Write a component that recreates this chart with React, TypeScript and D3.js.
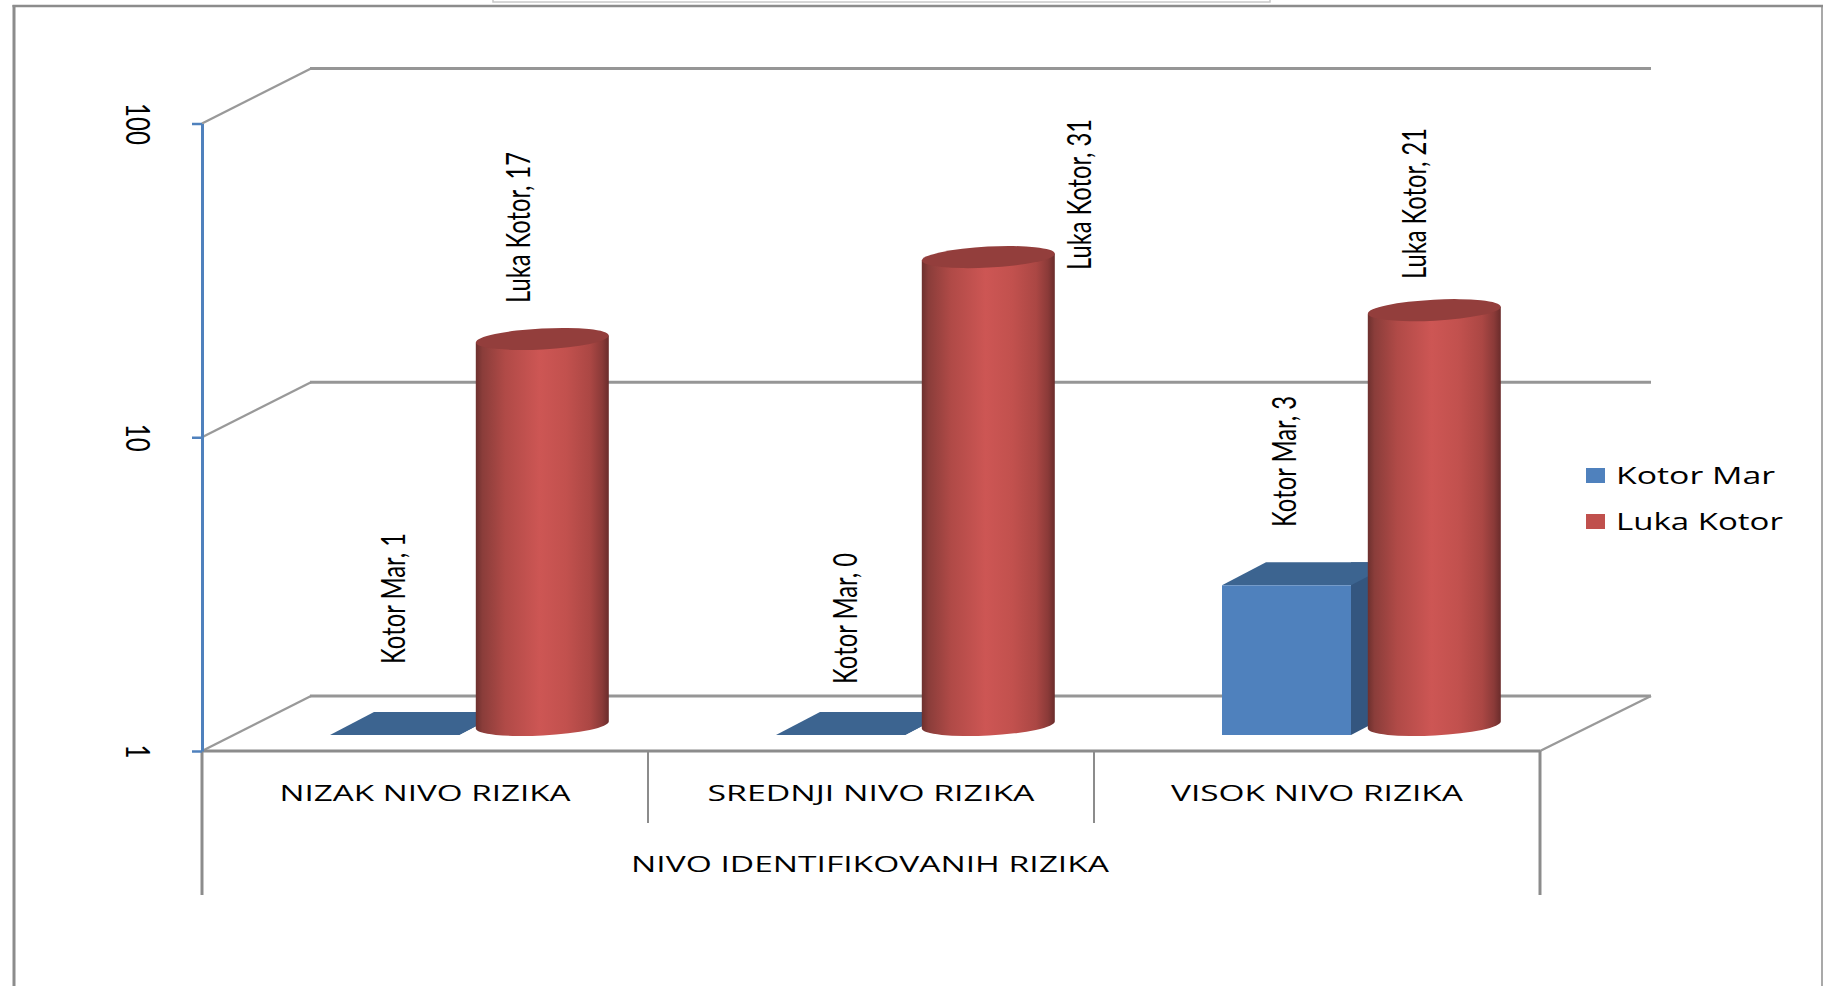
import * as d3 from 'd3';
import { useEffect, useRef } from 'react';

const categories = ['NIZAK NIVO RIZIKA', 'SREDNJI NIVO RIZIKA', 'VISOK NIVO RIZIKA'];
const seriesNames = ['Kotor Mar', 'Luka Kotor'];
const kotorMar = [1, 0, 3];
const lukaKotor = [17, 31, 21];
const yTicks = [1, 10, 100];
const axisTitle = 'NIVO IDENTIFIKOVANIH RIZIKA';

// manual label spots, the original chart has them dragged by hand
const kotorLabelSpots = [
    { x: 405, y: 664 },
    { x: 857, y: 684 },
    { x: 1296, y: 527 },
];
const lukaLabelSpots = [
    { x: 530, y: 303 },
    { x: 1091, y: 270 },
    { x: 1426, y: 279 },
];
const categoryLabelWidths = [291, 327, 292];

const GRAY = '#8c8c8c';
const NARROW = 'Lato, "Liberation Sans", Arial, sans-serif';
const WIDE = '"Open Sans", "DejaVu Sans", sans-serif';

export default function App() {
    const chartRef = useRef<SVGSVGElement | null>(null);

    useEffect(() => {
        if (!chartRef.current) return;
        const svg = d3.select(chartRef.current);
        svg.selectAll('*').remove();

        const width = 1823;
        const height = 986;
        const left = 202;
        const right = 1540;
        const floorY = 751;
        const depthX = 109;
        const depthY = 55;

        svg.attr('viewBox', `0 0 ${width} ${height}`);

        const x = d3.scaleBand<string>().domain(categories).range([left, right]);
        const y = d3.scaleLog().domain([1, 100]).range([floorY, 123.5]);

        // 圓柱漸層
        const grad = svg
            .append('defs')
            .append('linearGradient')
            .attr('id', 'cyl')
            .attr('x1', 0)
            .attr('x2', 1)
            .attr('y1', 0)
            .attr('y2', 0);
        [
            ['0%', '#6d302e'],
            ['5%', '#8a3d3a'],
            ['22%', '#b04a47'],
            ['48%', '#cd5654'],
            ['68%', '#c2514e'],
            ['86%', '#ab4744'],
            ['95%', '#8a3a38'],
            ['100%', '#6a2c2b'],
        ].forEach(([o, c]) => grad.append('stop').attr('offset', o).attr('stop-color', c));

        // 外框
        svg.append('line')
            .attr('x1', 14)
            .attr('x2', 14)
            .attr('y1', 5)
            .attr('y2', height)
            .attr('stroke', GRAY)
            .attr('stroke-width', 3);
        svg.append('line')
            .attr('x1', 12.5)
            .attr('x2', width)
            .attr('y1', 6)
            .attr('y2', 6)
            .attr('stroke', GRAY)
            .attr('stroke-width', 2.5);
        svg.append('line')
            .attr('x1', width - 1)
            .attr('x2', width - 1)
            .attr('y1', 5)
            .attr('y2', height)
            .attr('stroke', GRAY)
            .attr('stroke-width', 1.5);
        svg.append('rect')
            .attr('x', 493)
            .attr('y', -2)
            .attr('width', 777)
            .attr('height', 4)
            .attr('fill', '#fff')
            .attr('stroke', '#c8c8c8')
            .attr('stroke-width', 1.5);

        // 背牆格線
        yTicks.forEach((t) => {
            svg.append('path')
                .attr('d', `M${left},${y(t)} L${left + depthX},${y(t) - depthY}`)
                .attr('fill', 'none')
                .attr('stroke', '#999')
                .attr('stroke-width', 2.4);
            svg.append('line')
                .attr('x1', left + depthX - 1)
                .attr('x2', right + depthX + 2)
                .attr('y1', y(t) - depthY)
                .attr('y2', y(t) - depthY)
                .attr('stroke', '#969696')
                .attr('stroke-width', 3);
        });
        svg.append('line')
            .attr('x1', right)
            .attr('y1', floorY)
            .attr('x2', right + depthX + 2)
            .attr('y2', floorY - depthY)
            .attr('stroke', '#999')
            .attr('stroke-width', 2.4);

        // floor line and multi level category axis
        svg.append('line')
            .attr('x1', left)
            .attr('x2', right)
            .attr('y1', floorY)
            .attr('y2', floorY)
            .attr('stroke', GRAY)
            .attr('stroke-width', 3);
        const bounds = [left, x(categories[1])!, x(categories[2])!, right];
        bounds.forEach((b, i) => {
            svg.append('line')
                .attr('x1', b)
                .attr('x2', b)
                .attr('y1', floorY)
                .attr('y2', i === 0 || i === 3 ? 895 : 823)
                .attr('stroke', GRAY)
                .attr('stroke-width', i === 0 || i === 3 ? 3 : 2);
        });

        const band = x.bandwidth();
        const barW = 129;
        const barDx = 44;
        const barDy = 23;
        const baseY = 735; // 方柱前緣底部
        const lift = floorY - baseY;

        const cylRx = 66.5;
        const cylRy = 10.5;
        const tilt = 3.5;
        const cylBase = 26;

        categories.forEach((c, i) => {
            const g = svg.append('g');
            // Kotor Mar box, zero can not sit on a log axis so it stays flat
            const bx = x(c)! + band * 0.287;
            const top = y(Math.max(kotorMar[i], 1)) - lift;
            g.append('path')
                .attr('d', `M${bx + barW},${baseY} l${barDx},${-barDy} V${top - barDy} H${bx + barW} Z`)
                .attr('fill', '#34567f');
            g.append('path')
                .attr('d', `M${bx},${top} l${barDx},${-barDy} h${barW} l${-barDx},${barDy} Z`)
                .attr('fill', '#3c6490');
            if (top < baseY) {
                g.append('rect')
                    .attr('x', bx)
                    .attr('y', top)
                    .attr('width', barW)
                    .attr('height', baseY - top)
                    .attr('fill', '#4f81bd');
            }

            // Luka Kotor cylinder
            const cx = x(c)! + band * 0.763;
            const cTop = y(lukaKotor[i]) - cylBase;
            const cBot = floorY - cylBase;
            const xl = cx - cylRx;
            const xr = cx + cylRx;
            g.append('path')
                .attr(
                    'd',
                    `M${xl},${cTop + tilt} V${cBot + tilt} A${cylRx},${cylRy} -3 0 0 ${xr},${cBot - tilt} V${cTop - tilt} Z`,
                )
                .attr('fill', 'url(#cyl)');
            g.append('ellipse')
                .attr('cx', cx)
                .attr('cy', cTop)
                .attr('rx', cylRx)
                .attr('ry', cylRy)
                .attr('transform', `rotate(-3 ${cx} ${cTop})`)
                .attr('fill', '#933e3c');

            // 資料標籤
            const label = (text: string, p: { x: number; y: number }, len: number) =>
                svg
                    .append('text')
                    .attr('transform', `translate(${p.x},${p.y}) rotate(-90)`)
                    .attr('font-family', NARROW)
                    .attr('font-size', 33)
                    .attr('textLength', len)
                    .attr('lengthAdjust', 'spacingAndGlyphs')
                    .attr('fill', '#000')
                    .text(text);
            label(`${seriesNames[0]}, ${kotorMar[i]}`, kotorLabelSpots[i], 131);
            label(`${seriesNames[1]}, ${lukaKotor[i]}`, lukaLabelSpots[i], 151);

            // 類別標籤
            svg.append('text')
                .attr('x', x(c)! + band / 2)
                .attr('y', 801)
                .attr('text-anchor', 'middle')
                .attr('font-family', WIDE)
                .attr('font-size', 21)
                .attr('textLength', categoryLabelWidths[i])
                .attr('lengthAdjust', 'spacingAndGlyphs')
                .attr('fill', '#000')
                .text(c);
        });

        svg.append('text')
            .attr('x', 870)
            .attr('y', 872)
            .attr('text-anchor', 'middle')
            .attr('font-family', WIDE)
            .attr('font-size', 22)
            .attr('textLength', 478)
            .attr('lengthAdjust', 'spacingAndGlyphs')
            .attr('fill', '#000')
            .text(axisTitle);

        // Y 軸
        const yAxis = svg
            .append('g')
            .attr('transform', `translate(${left},0)`)
            .call(
                d3
                    .axisLeft(y)
                    .tickValues(yTicks)
                    .tickSizeInner(10)
                    .tickSizeOuter(0)
                    .tickFormat(d3.format('d') as any),
            );
        yAxis.select('.domain').attr('stroke', '#4f81bd').attr('stroke-width', 3);
        yAxis.selectAll('.tick line').attr('stroke', '#4f81bd').attr('stroke-width', 2.5);
        yAxis
            .selectAll<SVGTextElement, number>('text')
            .attr('x', 0)
            .attr('dy', 0)
            .attr('transform', 'translate(-76,0) rotate(90)')
            .attr('text-anchor', 'middle')
            .attr('font-family', NARROW)
            .attr('font-size', 33)
            .attr('textLength', (d) => String(d).length * 14)
            .attr('lengthAdjust', 'spacingAndGlyphs')
            .attr('fill', '#000');

        // 圖例
        const legendColors = ['#4f81bd', '#c0504d'];
        const legendWidths = [159, 167];
        seriesNames.forEach((s, i) => {
            const base = 484 + i * 46;
            svg.append('rect')
                .attr('x', 1586)
                .attr('y', base - 16)
                .attr('width', 19)
                .attr('height', 15)
                .attr('fill', legendColors[i]);
            svg.append('text')
                .attr('x', 1616)
                .attr('y', base)
                .attr('font-family', WIDE)
                .attr('font-size', 23)
                .attr('textLength', legendWidths[i])
                .attr('lengthAdjust', 'spacingAndGlyphs')
                .attr('fill', '#000')
                .text(s);
        });
    }, []);

    return (
        <svg
            ref={chartRef}
            width={1823}
            height={986}
            style={{ position: 'absolute', left: 0, top: 0, background: '#fff' }}
        />
    );
}
